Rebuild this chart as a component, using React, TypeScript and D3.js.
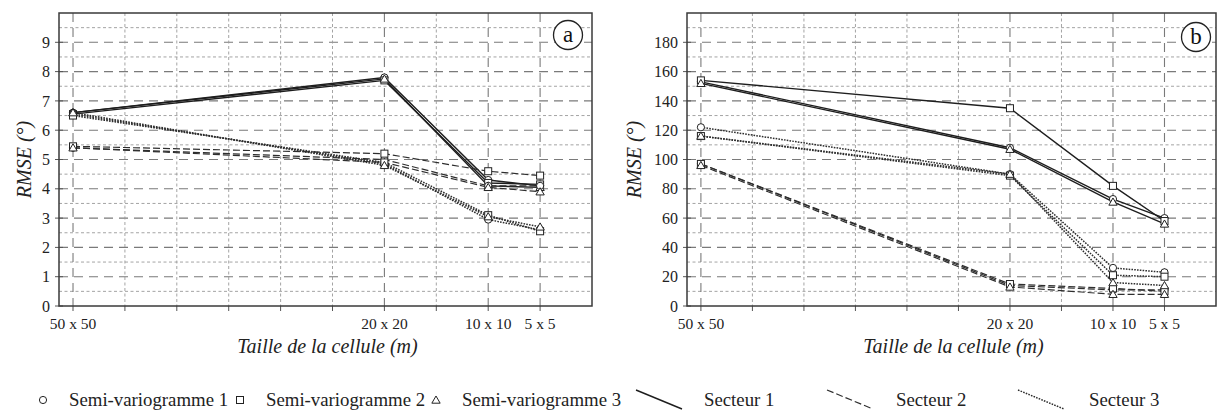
import React from "react";
import * as d3 from "d3";

// ---- data ----
const cellSizes = [50, 20, 10, 5];
const cellLabels = ["50 x 50", "20 x 20", "10 x 10", "5 x 5"];
const sectors = ["Secteur 1", "Secteur 2", "Secteur 3"];
const variograms = ["Semi-variogramme 1", "Semi-variogramme 2", "Semi-variogramme 3"];

// panel a : RMSE (°)
const aS1SV1 = [6.6, 7.8, 4.3, 4.1];
const aS1SV2 = [6.55, 7.7, 4.2, 4.15];
const aS1SV3 = [6.6, 7.75, 4.1, 4.05];
const aS2SV1 = [5.4, 5.0, 4.1, 4.1];
const aS2SV2 = [5.45, 5.2, 4.6, 4.45];
const aS2SV3 = [5.4, 4.9, 4.05, 3.9];
const aS3SV1 = [6.55, 4.85, 2.95, 2.6];
const aS3SV2 = [6.5, 4.9, 3.1, 2.55];
const aS3SV3 = [6.6, 4.8, 3.05, 2.7];

// panel b : RMSE (°)
const bS1SV1 = [153, 108, 73, 60];
const bS1SV2 = [154, 135, 82, 58];
const bS1SV3 = [152, 107, 71, 56];
const bS2SV1 = [97, 14, 11, 11];
const bS2SV2 = [97, 15, 12, 10];
const bS2SV3 = [96, 13, 8, 8];
const bS3SV1 = [122, 90, 26, 23];
const bS3SV2 = [116, 89, 21, 20];
const bS3SV3 = [116, 90, 16, 14];

const aTicks = [0, 1, 2, 3, 4, 5, 6, 7, 8, 9];
const bTicks = [0, 20, 40, 60, 80, 100, 120, 140, 160, 180];

const panelAData = [
  [aS1SV1, aS1SV2, aS1SV3],
  [aS2SV1, aS2SV2, aS2SV3],
  [aS3SV1, aS3SV2, aS3SV3],
];
const panelBData = [
  [bS1SV1, bS1SV2, bS1SV3],
  [bS2SV1, bS2SV2, bS2SV3],
  [bS3SV1, bS3SV2, bS3SV3],
];

const FONT = "Liberation Serif";

const lineStyles = [
  { dash: "none", width: 1.4, color: "#1e1e1e" },
  { dash: "7,3", width: 1.2, color: "#2e2e2e" },
  { dash: "1.6,1.2", width: 1.5, color: "#2e2e2e" },
];

function Marker({ kind, cx, cy }: { kind: number; cx: number; cy: number }) {
  const st = { fill: "white", stroke: "#222", strokeWidth: 1 };
  if (kind === 0) return <circle cx={cx} cy={cy} r={3.6} {...st} />;
  if (kind === 1) return <rect x={cx - 3.5} y={cy - 3.5} width={7} height={7} {...st} />;
  const p = d3.symbol(d3.symbolTriangle, 30)() as string;
  return <path d={p} transform={`translate(${cx},${cy + 0.8})`} {...st} />;
}

type PanelProps = {
  x0: number;
  x1: number;
  yTop: number;
  yBot: number;
  yMax: number;
  yTicks: number[];
  data: number[][][];
  letter: string;
  letterPos: [number, number];
  titleX: number;
};

function Panel({ x0, x1, yTop, yBot, yMax, yTicks, data, letter, letterPos, titleX }: PanelProps) {
  const x = d3.scaleLinear().domain([51.35, 0]).range([x0, x1]);
  const y = d3.scaleLinear().domain([0, yMax]).range([yBot, yTop]);
  const step = yTicks[1] - yTicks[0];
  const gridX = d3.range(50, 0, -5);
  const majorX = new Set(cellSizes);
  const yMinor = d3.range(step / 2, yMax, step);
  const line = d3
    .line<number>()
    .x((_, i) => x(cellSizes[i]))
    .y((d) => y(d));

  return (
    <g style={{ fontFamily: FONT }}>
      {yMinor.map((v) => (
        <line key={"hm" + v} x1={x0} x2={x1} y1={y(v)} y2={y(v)} stroke="#9a9a9a" strokeWidth={0.9} strokeDasharray="3,2.5" />
      ))}
      {yTicks.filter((v) => v > 0).map((v) => (
        <line key={"hM" + v} x1={x0} x2={x1} y1={y(v)} y2={y(v)} stroke="#7a7a7a" strokeWidth={1.1} strokeDasharray="9,6" />
      ))}
      {gridX.map((v) => {
        const major = majorX.has(v);
        return (
          <line
            key={"v" + v}
            x1={x(v)}
            x2={x(v)}
            y1={yTop}
            y2={yBot}
            stroke={major ? "#7a7a7a" : "#9a9a9a"}
            strokeWidth={major ? 1.1 : 0.9}
            strokeDasharray={major ? "9,6" : "3,2.5"}
          />
        );
      })}
      {gridX.map((v) => (
        <line key={"xt" + v} x1={x(v)} x2={x(v)} y1={yBot} y2={yBot + 5} stroke="#555" strokeWidth={1} />
      ))}
      {yTicks.map((v) => (
        <line key={"yt" + v} x1={x0 - 4} x2={x0 + 4} y1={y(v)} y2={y(v)} stroke="#555" strokeWidth={1} />
      ))}
      <rect x={x0} y={yTop} width={x1 - x0} height={yBot - yTop} fill="none" stroke="#3a3a3a" strokeWidth={1.5} />
      {yTicks.map((v) => (
        <text key={"yl" + v} x={x0 - 9} y={y(v)} dy="0.35em" textAnchor="end" fontSize={16} fill="#222">
          {v}
        </text>
      ))}
      {cellSizes.map((v, i) => (
        <text key={"xl" + v} x={x(v)} y={yBot + 23} textAnchor="middle" fontSize={15.5} fill="#222">
          {cellLabels[i]}
        </text>
      ))}
      <text x={(x0 + x1) / 2 + 2} y={yBot + 47} textAnchor="middle" fontStyle="italic" fontSize={20} fill="#222">
        Taille de la cellule (m)
      </text>
      <text
        transform={`translate(${titleX},${(yTop + yBot) / 2}) rotate(-90)`}
        textAnchor="middle"
        dy="0.35em"
        fontStyle="italic"
        fontSize={20}
        fill="#222"
      >
        RMSE (°)
      </text>
      {data.map((sec, si) =>
        sec.map((vals, vi) => (
          <path
            key={`l${si}-${vi}`}
            d={line(vals) as string}
            fill="none"
            stroke={lineStyles[si].color}
            strokeWidth={lineStyles[si].width}
            strokeDasharray={lineStyles[si].dash}
          />
        ))
      )}
      {data.map((sec, si) =>
        sec.map((vals, vi) =>
          vals.map((v, i) => <Marker key={`m${si}-${vi}-${i}`} kind={vi} cx={x(cellSizes[i])} cy={y(v)} />)
        )
      )}
      <circle cx={letterPos[0]} cy={letterPos[1]} r={14.5} fill="white" stroke="#222" strokeWidth={1.3} />
      <text x={letterPos[0]} y={letterPos[1]} dy="0.3em" textAnchor="middle" fontSize={23} fill="#111">
        {letter}
      </text>
    </g>
  );
}

function Legend() {
  const ly = 400;
  const markerX = [43, 240, 436];
  const textX = [69, 266, 462];
  const lineX = [636, 827, 1018];
  const secTextX = [704, 896, 1089];
  return (
    <g style={{ fontFamily: FONT }}>
      {variograms.map((name, i) => (
        <g key={name}>
          <Marker kind={i} cx={markerX[i]} cy={ly} />
          <text x={textX[i]} y={ly + 6} fontSize={18.8} fill="#222">
            {name}
          </text>
        </g>
      ))}
      {sectors.map((name, i) => (
        <g key={name}>
          <line
            x1={lineX[i]}
            y1={ly - 10}
            x2={lineX[i] + 46}
            y2={ly + 9}
            stroke={lineStyles[i].color}
            strokeWidth={lineStyles[i].width}
            strokeDasharray={lineStyles[i].dash}
          />
          <text x={secTextX[i]} y={ly + 6} fontSize={18.8} fill="#222">
            {name}
          </text>
        </g>
      ))}
    </g>
  );
}

export default function App() {
  return (
    <svg
      width={1218}
      height={410}
      style={{ position: "absolute", left: 0, top: 0, background: "white" }}
    >
      <rect width={1218} height={410} fill="white" />
      <Panel
        x0={59}
        x1={592}
        yTop={13}
        yBot={306}
        yMax={10}
        yTicks={aTicks}
        data={panelAData}
        letter="a"
        letterPos={[568, 35]}
        titleX={24}
      />
      <Panel
        x0={687}
        x1={1216}
        yTop={13}
        yBot={306}
        yMax={200}
        yTicks={bTicks}
        data={panelBData}
        letter="b"
        letterPos={[1196, 37]}
        titleX={634}
      />
      <Legend />
    </svg>
  );
}
